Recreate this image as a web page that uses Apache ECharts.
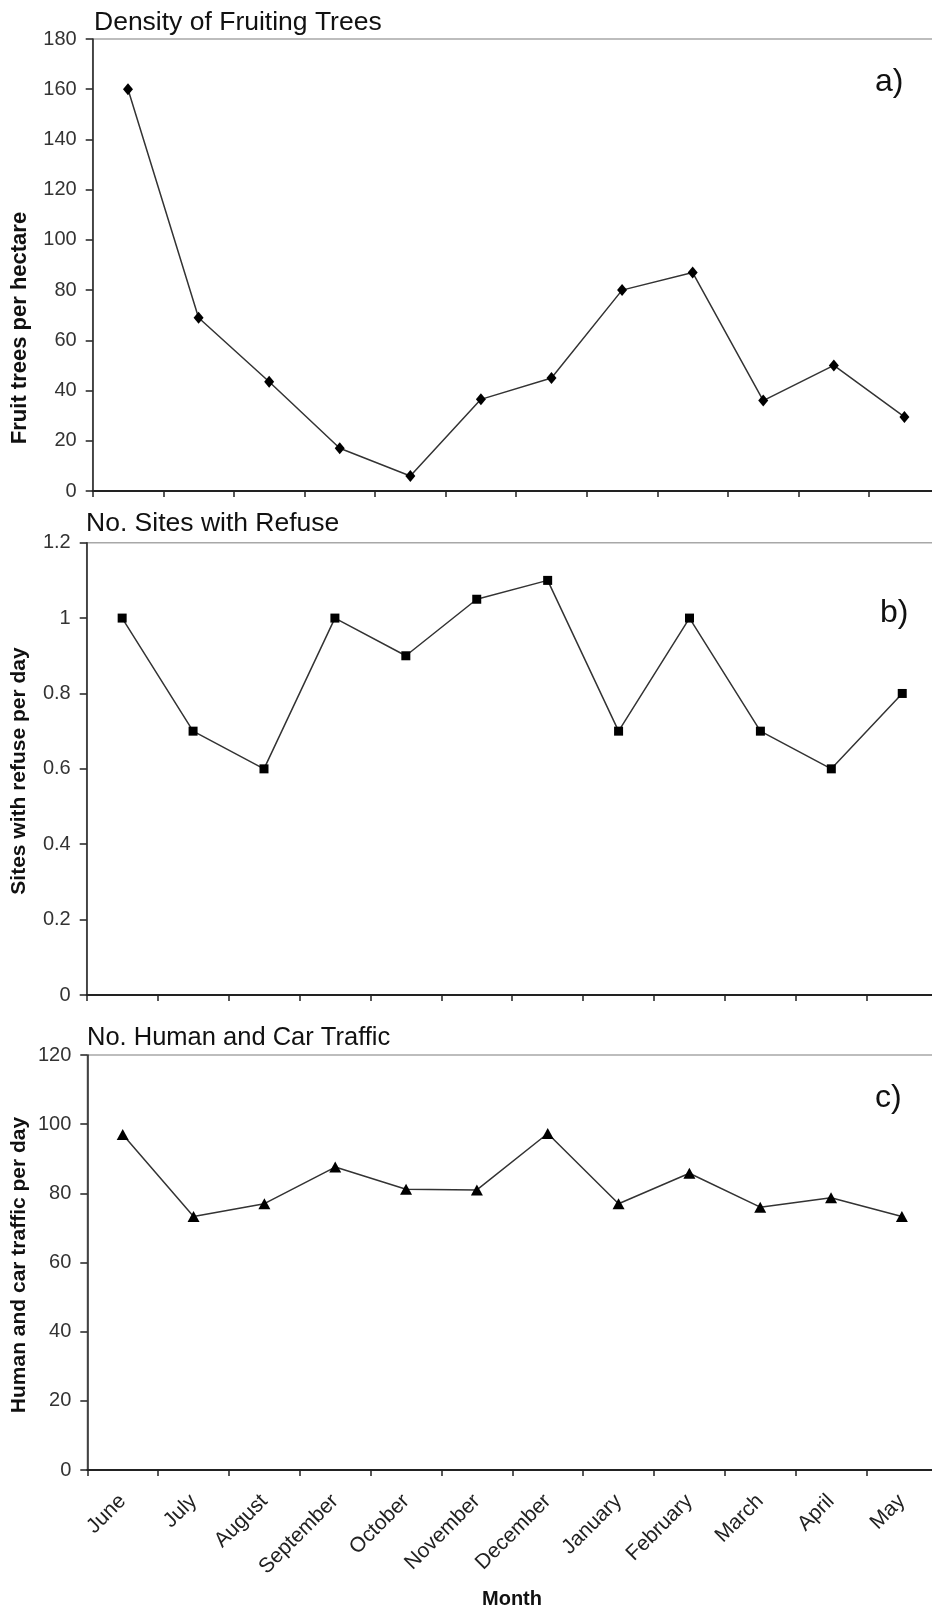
<!DOCTYPE html>
<html>
<head>
<meta charset="utf-8">
<script src="https://cdn.jsdelivr.net/npm/echarts@6/dist/echarts.min.js"></script>
<style>
  html, body { margin: 0; padding: 0; background: #fff; overflow: hidden; }
  #chart { width: 945px; height: 1609px; }
</style>
</head>
<body>
<div id="chart"></div>
<script>
const months = ['June','July','August','September','October','November','December','January','February','March','April','May'];
const fruitTrees = [160, 69, 43.5, 17, 6, 36.5, 45, 80, 87, 36, 50, 29.5];
const refuseSites = [1.0, 0.7, 0.6, 1.0, 0.9, 1.05, 1.1, 0.7, 1.0, 0.7, 0.6, 0.8];
const traffic = [97, 73.3, 77, 87.6, 81.2, 81, 97.3, 77, 85.8, 76, 78.7, 73.3];

const panelTitles = ['Density of Fruiting Trees', 'No. Sites with Refuse', 'No. Human and Car Traffic'];
const panelLetters = ['a)', 'b)', 'c)'];
const yNames = ['Fruit trees per hectare', 'Sites with refuse per day', 'Human and car traffic per day'];
const xName = 'Month';

const FONT = '"Liberation Sans", Arial, Helvetica, sans-serif';
const chart = echarts.init(document.getElementById('chart'), null, {renderer: 'canvas'});

const grids = [
  {left: 92.7, top: 39, width: 847, height: 452},
  {left: 86.7, top: 542.7, width: 851, height: 452.3},
  {left: 87.3, top: 1055, width: 850, height: 415}
].map(g => Object.assign(g, {show: true, borderColor: '#a8a8a8', borderWidth: 1.5, backgroundColor: '#fff'}));

const yRanges = [[0, 180, 20], [0, 1.2, 0.2], [0, 120, 20]];

const xAxes = [0, 1, 2].map(i => ({
  type: 'category', gridIndex: i, data: months, boundaryGap: true,
  axisLine: {show: true, lineStyle: {color: '#222', width: 2}},
  axisTick: {show: true, inside: false, interval: 0, length: 6, lineStyle: {color: '#222', width: 1.5}},
  axisLabel: i === 2 ? {show: true, rotate: 45, margin: 28, fontSize: 21, fontFamily: FONT, color: '#222', interval: 0} : {show: false},
  splitLine: {show: false}
}));

const yAxes = [0, 1, 2].map(i => ({
  type: 'value', gridIndex: i, min: yRanges[i][0], max: yRanges[i][1], interval: yRanges[i][2],
  axisLine: {show: true, lineStyle: {color: '#222', width: 1.5}},
  axisTick: {show: true, inside: false, length: 7, lineStyle: {color: '#222', width: 1.5}},
  axisLabel: {show: true, margin: 16, fontSize: 20, fontFamily: FONT, color: '#333'},
  splitLine: {show: false}
}));

const datasets = [fruitTrees, refuseSites, traffic];
const symbols = [['diamond', [10, 12]], ['rect', 9], ['triangle', [12, 11]]];

const series = [0, 1, 2].map(i => ({
  type: 'line', xAxisIndex: i, yAxisIndex: i, data: datasets[i],
  symbol: symbols[i][0], symbolSize: symbols[i][1], showAllSymbol: true,
  lineStyle: {color: '#333', width: 1.5},
  itemStyle: {color: '#000', borderColor: '#000', borderWidth: 0},
  animation: false
}));

const titleY = [23, 524, 1038];
const titleX = [94, 86, 87];
const titleSize = [26.5, 26.5, 25.5];
const letterPos = [[875, 82], [880, 613], [875, 1098]];
const yNamePos = [[20, 328], [19, 771], [19, 1265]];
const yNameSize = [22, 21, 21];

const graphics = [];
for (let i = 0; i < 3; i++) {
  graphics.push({type: 'text', x: titleX[i], y: titleY[i], silent: true,
    style: {text: panelTitles[i], font: titleSize[i] + 'px ' + FONT, fill: '#111', textAlign: 'left', textVerticalAlign: 'middle'}});
  graphics.push({type: 'text', x: letterPos[i][0], y: letterPos[i][1], silent: true,
    style: {text: panelLetters[i], font: '32px ' + FONT, fill: '#111', textAlign: 'left', textVerticalAlign: 'middle'}});
  graphics.push({type: 'text', x: yNamePos[i][0], y: yNamePos[i][1], rotation: Math.PI / 2, silent: true,
    style: {text: yNames[i], font: 'bold ' + yNameSize[i] + 'px ' + FONT, fill: '#111', textAlign: 'center', textVerticalAlign: 'middle'}});
}
graphics.push({type: 'text', x: 512, y: 1599, silent: true,
  style: {text: xName, font: 'bold 20px ' + FONT, fill: '#111', textAlign: 'center', textVerticalAlign: 'middle'}});

chart.setOption({
  animation: false,
  backgroundColor: '#fff',
  grid: grids,
  xAxis: xAxes,
  yAxis: yAxes,
  series: series,
  graphic: graphics
});
</script>
</body>
</html>
